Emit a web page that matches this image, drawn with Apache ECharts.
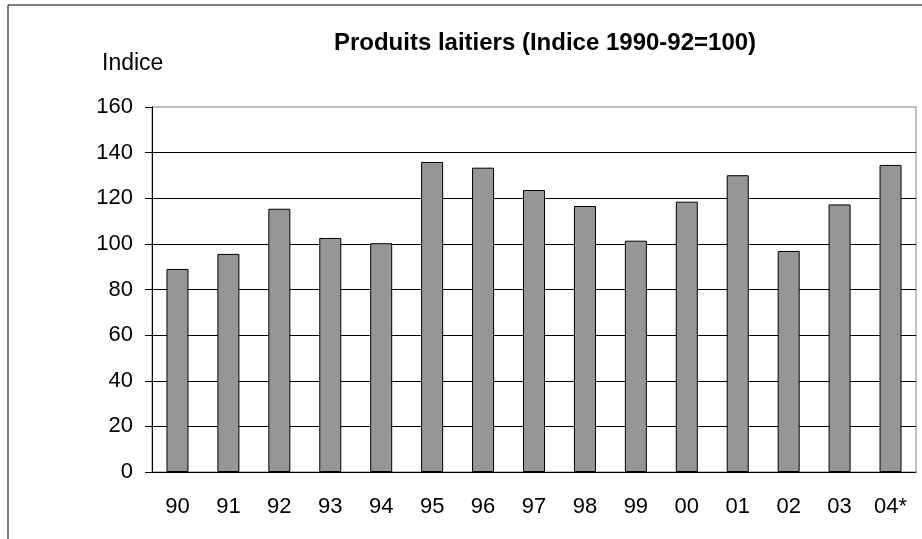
<!DOCTYPE html>
<html>
<head>
<meta charset="utf-8">
<script src="https://cdn.jsdelivr.net/npm/echarts@6/dist/echarts.min.js"></script>
<style>
  html, body { margin: 0; padding: 0; background: #fff; }
  #chart { width: 922px; height: 539px; }
</style>
</head>
<body>
<div id="chart"></div>
<script>
const years = ['90', '91', '92', '93', '94', '95', '96', '97', '98', '99', '00', '01', '02', '03', '04*']
const indexValues = [89, 95.6, 115.4, 102.6, 100.3, 135.9, 133.4, 123.6, 116.6, 101.4, 118.5, 130.1, 96.9, 117.3, 134.6]
const yTicks = [0, 20, 40, 60, 80, 100, 120, 140, 160]

const font = 'Liberation Sans, Arial, sans-serif'
const chart = echarts.init(document.getElementById('chart'))

chart.setOption({
  animation: false,
  backgroundColor: '#fff',
  textStyle: { fontFamily: font },
  title: [
    {
      text: 'Produits laitiers (Indice 1990-92=100)',
      left: 540,
      top: 26,
      textAlign: 'center',
      textStyle: { fontSize: 24, fontWeight: 'bold', color: '#000', fontFamily: font }
    },
    {
      text: 'Indice',
      left: 97,
      top: 47,
      textStyle: { fontSize: 23, fontWeight: 'normal', color: '#000', fontFamily: font }
    }
  ],
  // outer chart frame (top and left edges visible)
  graphic: [
    { type: 'line', shape: { x1: 8, y1: 5, x2: 922, y2: 5 }, style: { stroke: '#000', lineWidth: 1 } },
    { type: 'line', shape: { x1: 8, y1: 5, x2: 8, y2: 539 }, style: { stroke: '#000', lineWidth: 1 } }
  ],
  grid: {
    left: 152,
    right: 6,
    top: 107,
    bottom: 67,
    show: true,
    borderColor: '#808080',
    borderWidth: 1
  },
  xAxis: {
    type: 'category',
    data: years,
    axisLine: { lineStyle: { color: '#000', width: 1 } },
    axisTick: { length: 8, lineStyle: { color: '#000' } },
    axisLabel: { color: '#000', fontSize: 22, margin: 24, fontFamily: font }
  },
  yAxis: {
    type: 'value',
    min: yTicks[0],
    max: yTicks[yTicks.length - 1],
    interval: yTicks[1] - yTicks[0],
    axisLine: { show: true, lineStyle: { color: '#000', width: 1 } },
    axisTick: { show: true, length: 7, lineStyle: { color: '#000' } },
    axisLabel: { color: '#000', fontSize: 22, margin: 19, fontFamily: font },
    splitLine: { show: true, showMaxLine: false, lineStyle: { color: '#000', width: 1 } }
  },
  series: [
    {
      type: 'bar',
      data: indexValues,
      barWidth: 22,
      itemStyle: { color: '#969696', borderColor: '#000', borderWidth: 1 }
    }
  ]
})
</script>
</body>
</html>
